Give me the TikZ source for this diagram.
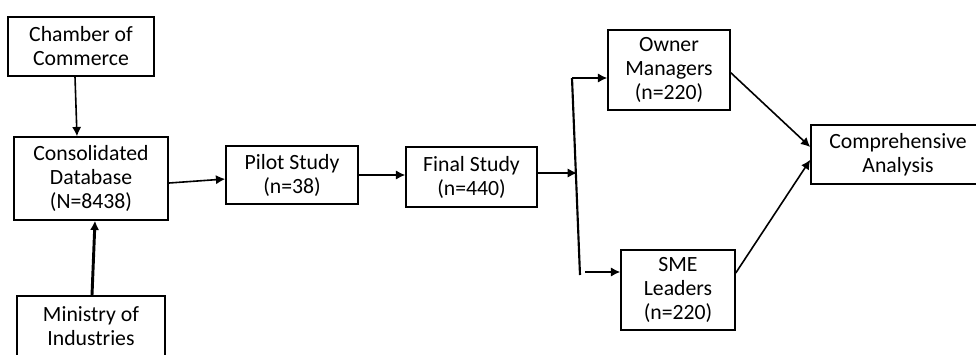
\documentclass[tikz,border=0pt]{standalone}
\usepackage{fontspec}
\setmainfont{Carlito}
\usetikzlibrary{arrows.meta}
\begin{document}
\begin{tikzpicture}[x=0.75pt,y=-0.75pt,
  box/.style={draw,line width=1.1pt,align=center,inner sep=0pt,
    font=\fontsize{16.3}{18}\selectfont},
  link/.style={-{Latex[length=7pt,width=7pt]},line width=1.2pt}]
\clip (0,0) rectangle (976,354);
\node[box,minimum width=109.5pt,minimum height=44.25pt] (cham) at (81,46.5) {Chamber of\\Commerce};
\node[box,minimum width=115.5pt,minimum height=62.25pt] (cons) at (91,178.5) {Consolidated\\Database\\(N=8438)};
\node[box,minimum width=111pt,minimum height=45pt] (mini) at (91,326) {Ministry of\\Industries};
\node[box,minimum width=99pt,minimum height=43.5pt] (pilot) at (292,175) {Pilot Study\\(n=38)};
\node[box,minimum width=98.25pt,minimum height=45pt] (final) at (471.5,177) {Final Study\\(n=440)};
\node[box,minimum width=91.5pt,minimum height=60pt] (owner) at (669,70) {Owner\\Managers\\(n=220)};
\node[box,minimum width=85.5pt,minimum height=60pt] (sme) at (678,290) {SME\\Leaders\\(n=220)};
\node[box,minimum width=130.5pt,minimum height=44.25pt] (comp) at (898,154.5) {Comprehensive\\Analysis};
% split after the final study
\coordinate (bt) at (572,78);
\coordinate (bm) at (577,173);
\coordinate (bb) at (580,275);
\coordinate (bs) at (585,272);
\draw[link] ([xshift=-4.5pt]cham.south) -- ([xshift=-10.5pt]cons.north);
\draw[link,line width=2.2pt] ([xshift=0.75pt]mini.north) -- ([xshift=3pt]cons.south);
\draw[link] ([yshift=-3.4pt]cons.east) -- ([yshift=-3pt]pilot.west);
\draw[link] (pilot.east) -- (pilot.east -| final.west);
\draw[link] (final.east |- bm) -- (bm);
\draw[line width=1.6pt] (bt) -- (bb);
\draw[link] (bt) -- (bt -| owner.west);
\draw[link] (bs) -- (bs -| sme.west);
\draw[link] ([yshift=-2pt]owner.east) -- ([yshift=5.6pt]comp.west);
\draw[link] ([yshift=12.75pt]sme.east) -- ([yshift=-4pt]comp.west);
\end{tikzpicture}
\end{document}
